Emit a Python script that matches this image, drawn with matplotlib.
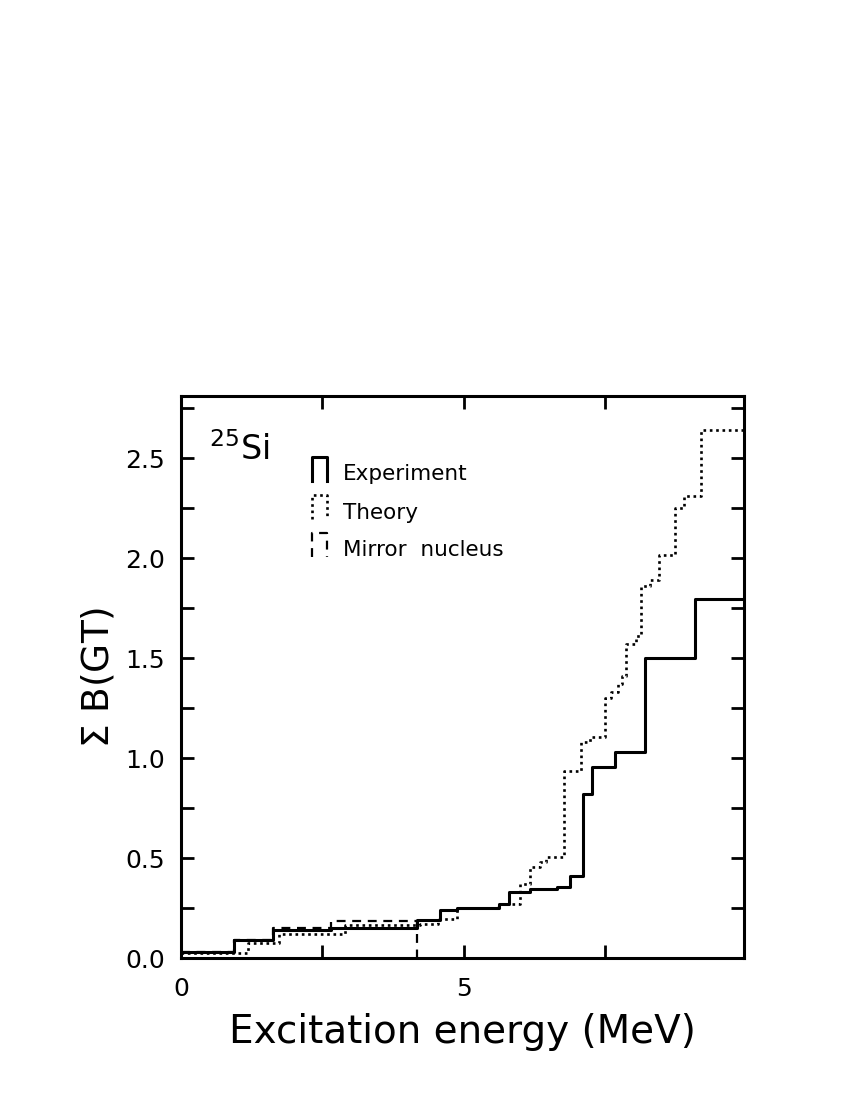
import matplotlib
matplotlib.use("Agg")
import matplotlib.pyplot as plt
from matplotlib.ticker import MultipleLocator, FormatStrFormatter

# step edges (MeV) and running sums of B(GT)
exp_e = [0, 0.94, 1.62, 2.66, 4.18, 4.58, 4.88, 5.62, 5.80, 6.17, 6.64, 6.87,
         7.10, 7.26, 7.67, 8.20, 9.08, 10.0]
exp_b = [0.03, 0.09, 0.14, 0.15, 0.19, 0.24, 0.25, 0.27, 0.33, 0.345, 0.357,
         0.41, 0.82, 0.957, 1.03, 1.50, 1.795, 1.795]

th_e = [0, 1.18, 1.73, 2.90, 4.22, 4.54, 4.88, 5.60, 5.99, 6.17, 6.35, 6.45,
        6.77, 7.08, 7.23, 7.49, 7.60, 7.72, 7.80, 7.87, 8.05, 8.14, 8.30,
        8.46, 8.73, 8.90, 9.20, 10.0]
th_b = [0.023, 0.073, 0.12, 0.165, 0.17, 0.195, 0.25, 0.27, 0.37, 0.455,
        0.48, 0.505, 0.935, 1.08, 1.107, 1.30, 1.33, 1.37, 1.41, 1.57, 1.61,
        1.86, 1.89, 2.015, 2.25, 2.31, 2.64, 2.64]

mir_e = [0, 0.94, 1.62, 2.66, 4.18]
mir_b = [0.03, 0.09, 0.148, 0.185, 0.0]

dot = (0, (1, 1.4))
dash = (0, (4, 3))

fig = plt.figure(figsize=(8.5, 11), dpi=100)
ax = fig.add_axes([0.213, 0.129, 0.662, 0.511])

ax.step(exp_e, exp_b, where="post", color="black", lw=2.2)
ax.step(th_e, th_b, where="post", color="black", lw=1.9, linestyle=dot)
ax.step(mir_e, mir_b, where="post", color="black", lw=1.6, linestyle=dash)

ax.set_xlim(0, 9.95)
ax.set_ylim(0, 2.81)
ax.xaxis.set_major_locator(MultipleLocator(5))
ax.xaxis.set_minor_locator(MultipleLocator(2.5))
ax.yaxis.set_major_locator(MultipleLocator(0.5))
ax.yaxis.set_minor_locator(MultipleLocator(0.25))
ax.xaxis.set_major_formatter(FormatStrFormatter("%d"))
ax.yaxis.set_major_formatter(FormatStrFormatter("%.1f"))

for s in ax.spines.values():
    s.set_linewidth(2.2)
ax.tick_params(which="both", direction="in", top=True, right=True,
               length=9.5, width=2.0)
ax.tick_params(axis="y", which="major", pad=11.5, labelsize=18)
ax.tick_params(axis="x", which="major", pad=13.5, labelsize=18)

ax.set_xlabel("Excitation energy (MeV)", fontsize=28, labelpad=9)
ax.set_ylabel(r"$\Sigma$ B(GT)", fontsize=27, labelpad=6)

ax.text(0.05, 0.905, r"$^{25}$Si", transform=ax.transAxes, fontsize=24,
        va="center", ha="left")

# hand-drawn legend glyphs
tr = ax.transAxes
x0, x1 = 0.233, 0.259
ax.plot([x0, x0, x1, x1], [0.849, 0.891, 0.891, 0.849], transform=tr,
        color="black", lw=2.2, clip_on=False)
ax.plot([x0, x0, x1, x1], [0.781, 0.824, 0.824, 0.781], transform=tr,
        color="black", lw=1.9, linestyle=dot, clip_on=False)
ax.plot([x0, x0, x1, x1], [0.714, 0.756, 0.756, 0.714], transform=tr,
        color="black", lw=1.6, linestyle=dash, clip_on=False)
for ty, name in [(0.861, "Experiment"), (0.792, "Theory"), (0.726, "Mirror  nucleus")]:
    ax.text(0.288, ty, name, transform=tr, fontsize=15.5, va="center", ha="left")

fig.savefig("out.png", dpi=100)
